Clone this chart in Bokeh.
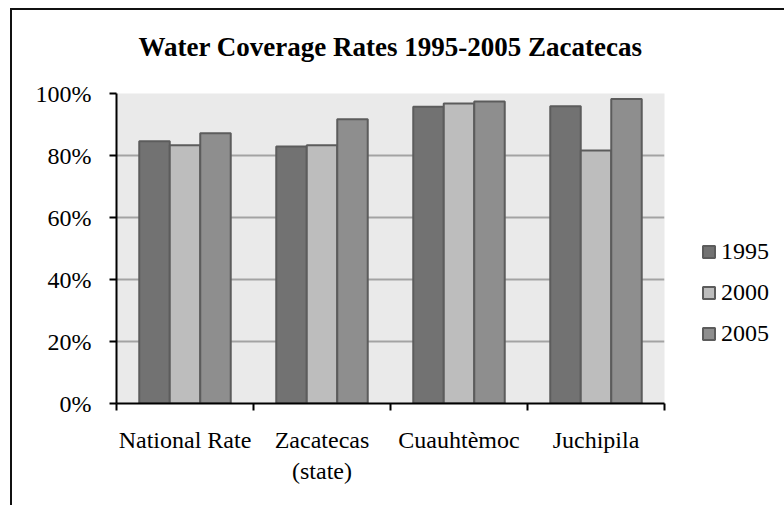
from bokeh.plotting import figure
from bokeh.models import (ColumnDataSource, FixedTicker, LinearAxis, Range1d,
                          NumeralTickFormatter, Legend, LegendItem, Title)
from bokeh.transform import dodge
from bokeh.embed import file_html
from bokeh.resources import INLINE

# ---- data ----
categories = ["National Rate", "Zacatecas\n(state)", "Cuauhtèmoc", "Juchipila"]
years = ["1995", "2000", "2005"]
rate_1995 = [0.846, 0.829, 0.957, 0.959]
rate_2000 = [0.833, 0.833, 0.968, 0.816]
rate_2005 = [0.872, 0.917, 0.974, 0.982]
y_ticks = [0.0, 0.2, 0.4, 0.6, 0.8, 1.0]
chart_title = "Water Coverage Rates 1995-2005 Zacatecas"

colors = {"1995": "#727272", "2000": "#bdbdbd", "2005": "#8e8e8e"}
FONT = "Liberation Serif"

centers = [i + 0.5 for i in range(len(categories))]
bounds = list(range(len(categories) + 1))
src = ColumnDataSource(dict(x=centers, y1995=rate_1995, y2000=rate_2000, y2005=rate_2005))

p = figure(frame_width=548, frame_height=310,
           x_range=Range1d(0, len(categories)), y_range=Range1d(0, 1),
           output_backend="svg", toolbar_location=None, x_axis_type=None,
           title=None,
           min_border_left=104, min_border_right=108, min_border_top=83, min_border_bottom=104)
p.styles = {"border-left": "2px solid #111111", "border-top": "2px solid #111111",
            "margin-left": "10px", "margin-top": "8px"}

# spacer title (inner), then main title (outer)
p.add_layout(Title(text=" ", text_font_size="10px", standoff=19), "above")
p.add_layout(Title(text=chart_title, text_font=FONT, text_font_style="bold",
                   text_font_size="27px", align="center", standoff=0,
                   text_color="black"), "above")

p.background_fill_color = "#eaeaea"
p.border_fill_color = "white"
p.outline_line_color = None

# bars
bw = 0.2226
renderers = []
for off, yr, col in zip([-bw, 0.0, bw], years, ["y1995", "y2000", "y2005"]):
    r = p.vbar(x=dodge("x", off, range=p.x_range), top=col, width=bw, source=src,
               fill_color=colors[yr], line_color="#5c5c5c", line_width=2)
    renderers.append(r)

# grid
p.xgrid.visible = False
p.ygrid.ticker = FixedTicker(ticks=y_ticks)
p.ygrid.grid_line_color = "#a3a3a3"
p.ygrid.grid_line_width = 2

# y axis
ya = p.yaxis[0]
ya.ticker = FixedTicker(ticks=y_ticks)
ya.formatter = NumeralTickFormatter(format="0%")
ya.major_label_text_font = FONT
ya.major_label_text_font_size = "24px"
ya.major_label_text_color = "black"
ya.axis_line_color = "black"
ya.axis_line_width = 2
ya.major_tick_line_color = "black"
ya.major_tick_line_width = 2
ya.major_tick_out = 7
ya.major_tick_in = 0
ya.minor_tick_line_color = None
ya.major_label_standoff = 18

# x axis: tick marks at category boundaries
ax1 = LinearAxis(ticker=FixedTicker(ticks=bounds),
                 major_label_overrides={b: "" for b in bounds},
                 major_label_text_font_size="1px", major_label_standoff=0,
                 axis_line_color="black", axis_line_width=2,
                 major_tick_line_color="black", major_tick_line_width=2,
                 major_tick_out=7, major_tick_in=0, minor_tick_line_color=None)
# x axis: category labels at centers
ax2 = LinearAxis(ticker=FixedTicker(ticks=centers),
                 major_label_overrides={c: lab for c, lab in zip(centers, categories)},
                 major_label_text_font=FONT, major_label_text_font_size="24px",
                 major_label_text_color="black", major_label_standoff=10,
                 axis_line_color=None, major_tick_line_color=None,
                 minor_tick_line_color=None)
p.add_layout(ax1, "below")
p.add_layout(ax2, "below")

legend = Legend(items=[LegendItem(label=yr, renderers=[r]) for yr, r in zip(years, renderers)],
                location="top_left", glyph_width=15, glyph_height=15,
                label_text_font=FONT, label_text_font_size="24px", label_text_color="black",
                label_standoff=5, spacing=14, label_height=20, padding=0, margin=37,
                title=" ", title_text_font_size="10px", title_standoff=97,
                border_line_color=None, background_fill_alpha=0)
p.add_layout(legend, "right")

open("out.html", "w").write(file_html(p, INLINE))
